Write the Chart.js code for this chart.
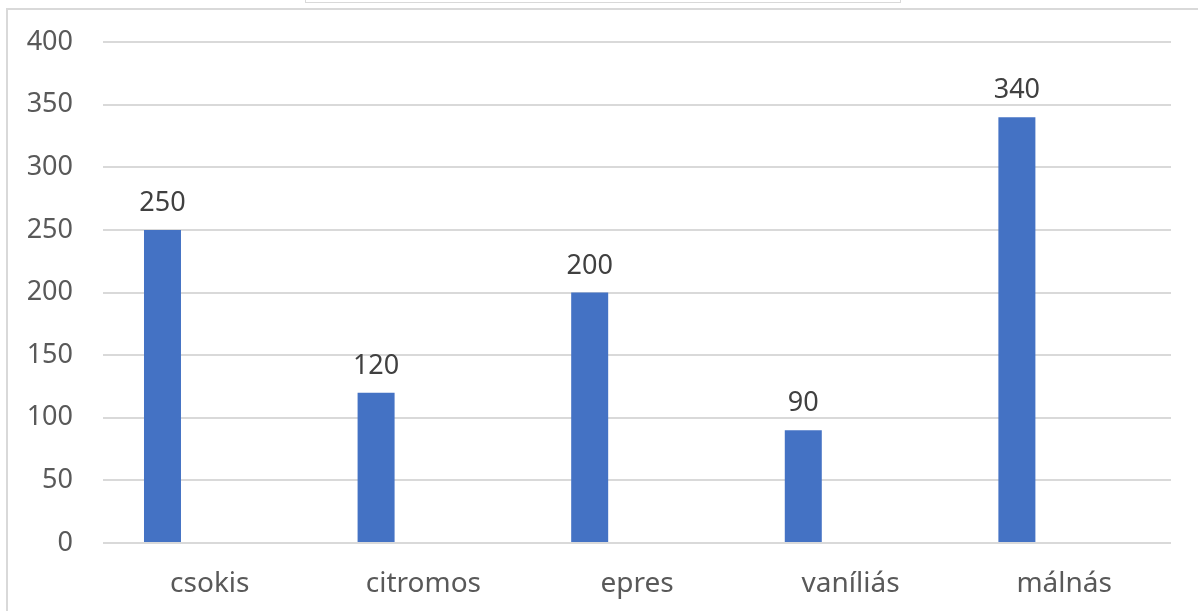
<!DOCTYPE html>
<html>
<head>
<meta charset="utf-8">
<script src="https://cdn.jsdelivr.net/npm/chart.js@4"></script>
<style>
  html, body { margin: 0; padding: 0; background: #ffffff; }
  #wrap { position: relative; width: 1198px; height: 611px; overflow: hidden; }
  #frame { position: absolute; left: 6px; top: 8px; width: 1200px; height: 620px;
           border-left: 2px solid #d9d9d9; border-top: 2px solid #d9d9d9; box-sizing: border-box; }
  #topbox { position: absolute; left: 305px; top: -30px; width: 596px; height: 33px;
            border: 1.5px solid #d9d9d9; box-sizing: border-box; }
  canvas { position: absolute; left: 0; top: 0; }
</style>
</head>
<body>
<div id="wrap">
  <div id="frame"></div>
  <div id="topbox"></div>
  <canvas id="c" width="1198" height="611"></canvas>
</div>
<script>
const categories = ['csokis', 'citromos', 'epres', 'vaníliás', 'málnás'];
const values = [250, 120, 200, 90, 340];
const emptySeries = [null, null, null, null, null];
const yTicks = [0, 50, 100, 150, 200, 250, 300, 350, 400];

const FONT = '"Noto Sans", "Open Sans", sans-serif';

const dataLabels = {
  id: 'dataLabels',
  afterDatasetsDraw(chart) {
    const ctx = chart.ctx;
    const meta = chart.getDatasetMeta(0);
    ctx.save();
    ctx.font = '27px ' + FONT;
    ctx.fillStyle = '#404040';
    ctx.textAlign = 'center';
    ctx.textBaseline = 'alphabetic';
    meta.data.forEach((bar, i) => {
      const v = values[i];
      if (v == null) return;
      ctx.fillText(String(v), bar.x, bar.y - 19);
    });
    ctx.restore();
  }
};

new Chart(document.getElementById('c'), {
  type: 'bar',
  data: {
    labels: categories,
    datasets: [
      { label: 'Series 1', data: values, backgroundColor: '#4472c4', borderWidth: 0,
        categoryPercentage: 0.886, barPercentage: 0.391 },
      { label: 'Series 2', data: emptySeries, backgroundColor: '#ed7d31', borderWidth: 0,
        categoryPercentage: 0.886, barPercentage: 0.391 }
    ]
  },
  options: {
    responsive: false,
    animation: false,
    devicePixelRatio: 1,
    layout: { padding: { top: 42, right: 27, left: 0, bottom: 0 } },
    plugins: { legend: { display: false }, tooltip: { enabled: false } },
    scales: {
      x: {
        grid: { display: false, drawTicks: false },
        border: { display: false },
        ticks: { color: '#595959', font: { family: FONT, size: 28 }, padding: 24 },
        afterFit(scale) { scale.height = 611 - 543; }
      },
      y: {
        min: 0, max: 400,
        afterBuildTicks(scale) { scale.ticks = yTicks.map(v => ({ value: v })); },
        grid: { color: '#d9d9d9', lineWidth: 2, drawTicks: false },
        border: { display: false },
        ticks: { color: '#595959', font: { family: FONT, size: 27 }, padding: 30 },
        afterFit(scale) { scale.width = 103; scale.paddingTop = 0; scale.paddingBottom = 0; }
      }
    }
  },
  plugins: [dataLabels]
});
</script>
</body>
</html>
